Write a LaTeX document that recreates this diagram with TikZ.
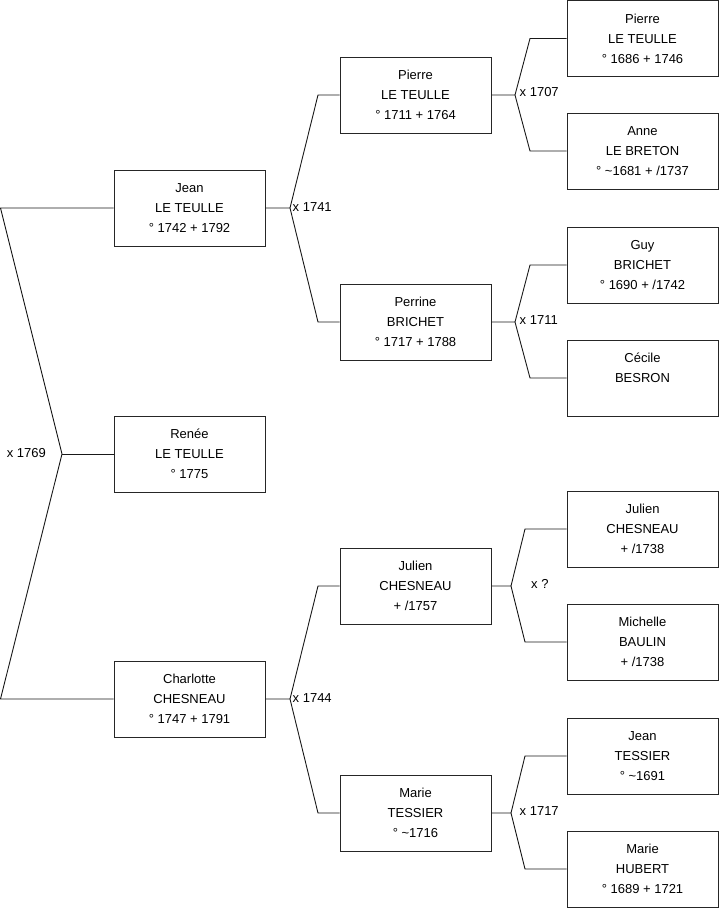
\documentclass[tikz,border=0pt]{standalone}
\usepackage{fontspec}
\setmainfont{Liberation Sans}
\begin{document}
\begin{tikzpicture}[x=1pt,y=-1pt,
  person/.style={draw=black!85,line width=1pt,fill=white,minimum width=151pt,minimum height=76pt,
    inner sep=0pt,align=center,font=\fontsize{13}{20}\selectfont},
  link/.style={draw=black!90,line width=0.9pt},
  mar/.style={inner sep=1pt,font=\fontsize{13}{16}\selectfont}]
\useasboundingbox (0,0) rectangle (719,908);
% column 1
\node[person] (jean) at (189.5,208) {Jean\\LE TEULLE\\° 1742 + 1792};
\node[person] (renee) at (189.5,454) {Renée\\LE TEULLE\\° 1775};
\node[person] (charlotte) at (189.5,699) {Charlotte\\CHESNEAU\\° 1747 + 1791};
% column 2
\node[person] (pierreB) at (415.5,95) {Pierre\\LE TEULLE\\° 1711 + 1764};
\node[person] (perrine) at (415.5,322) {Perrine\\BRICHET\\° 1717 + 1788};
\node[person] (julienB) at (415.5,586) {Julien\\CHESNEAU\\+ /1757};
\node[person] (marieB) at (415.5,813) {Marie\\TESSIER\\° \textasciitilde1716};
% column 3
\node[person] (pierreA) at (642.5,38.5) {Pierre\\LE TEULLE\\° 1686 + 1746};
\node[person] (anne) at (642.5,151) {Anne\\LE BRETON\\° \textasciitilde1681 + /1737};
\node[person] (guy) at (642.5,265) {Guy\\BRICHET\\° 1690 + /1742};
\node[person] (cecile) at (642.5,378) {Cécile\\BESRON\\\mbox{}};
\node[person] (julienA) at (642.5,529) {Julien\\CHESNEAU\\+ /1738};
\node[person] (michelle) at (642.5,642) {Michelle\\BAULIN\\+ /1738};
\node[person] (jeanA) at (642.5,756) {Jean\\TESSIER\\° \textasciitilde1691};
\node[person] (marieA) at (642.5,869) {Marie\\HUBERT\\° 1689 + 1721};
% coordinates
\coordinate (r0) at (62,454);
\coordinate (r0t) at (0.5,208);
\coordinate (r0b) at (0.5,699);
\coordinate (r1) at (290,208);
\coordinate (r1t) at (318,95);
\coordinate (r1b) at (318,322);
\coordinate (r2) at (290,699);
\coordinate (r2t) at (318,586);
\coordinate (r2b) at (318,813);
\coordinate (r3) at (515,95);
\coordinate (r3t) at (530,38.5);
\coordinate (r3b) at (530,151);
\coordinate (r4) at (515,322);
\coordinate (r4t) at (530,265);
\coordinate (r4b) at (530,378);
\coordinate (r5) at (511,586);
\coordinate (r5t) at (525,529);
\coordinate (r5b) at (525,642);
\coordinate (r6) at (511,813);
\coordinate (r6t) at (525,756);
\coordinate (r6b) at (525,869);
% links
\draw[link] (jean.west) -- (r0t) -- (r0) -- (r0b) -- (charlotte.west);
\draw[link] (r0) -- (renee.west);
\draw[link] (jean.east) -- (r1) -- (r1t) -- (pierreB.west);
\draw[link] (r1) -- (r1b) -- (perrine.west);
\draw[link] (charlotte.east) -- (r2) -- (r2t) -- (julienB.west);
\draw[link] (r2) -- (r2b) -- (marieB.west);
\draw[link] (pierreB.east) -- (r3) -- (r3t) -- (pierreA.west);
\draw[link] (r3) -- (r3b) -- (anne.west);
\draw[link] (perrine.east) -- (r4) -- (r4t) -- (guy.west);
\draw[link] (r4) -- (r4b) -- (cecile.west);
\draw[link] (julienB.east) -- (r5) -- (r5t) -- (julienA.west);
\draw[link] (r5) -- (r5b) -- (michelle.west);
\draw[link] (marieB.east) -- (r6) -- (r6t) -- (jeanA.west);
\draw[link] (r6) -- (r6b) -- (marieA.west);
% marriage labels
\node[mar,anchor=east] (m0) at (47,453) {x 1769};
\node[mar,anchor=west] (m1) at (291.5,207) {x 1741};
\node[mar,anchor=west] (m2) at (291.5,698) {x 1744};
\node[mar,anchor=west] (m3) at (518.5,92) {x 1707};
\node[mar,anchor=west] (m4) at (518.5,320) {x 1711};
\node[mar,anchor=west] (m5) at (530,584) {x ?};
\node[mar,anchor=west] (m6) at (518.5,811) {x 1717};
\end{tikzpicture}
\end{document}
